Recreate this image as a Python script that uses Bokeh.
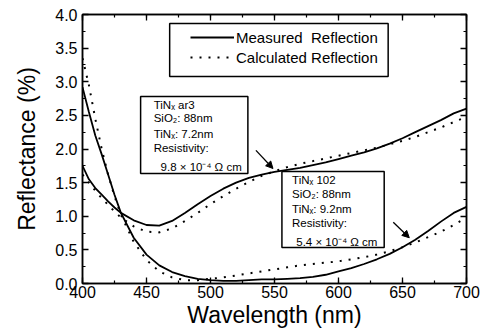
from bokeh.plotting import figure
from bokeh.models import (Range1d, LinearAxis, Legend, LegendItem, BoxAnnotation,
                          Label, Arrow, NormalHead, SingleIntervalTicker, NumeralTickFormatter)
from bokeh.embed import file_html
from bokeh.resources import INLINE

# ---------------- data ----------------
wavelength = [400, 405, 410, 415, 420, 425, 430, 440, 450, 460, 470, 480, 490, 500,
              510, 520, 530, 540, 550, 560, 570, 580, 590, 600, 610, 620, 630, 640,
              650, 660, 670, 680, 690, 700]

meas_ar3 = [1.75, 1.55, 1.42, 1.32, 1.22, 1.13, 1.05, 0.94, 0.87, 0.86, 0.93, 1.05, 1.18, 1.30,
            1.41, 1.50, 1.57, 1.62, 1.66, 1.69, 1.72, 1.76, 1.80, 1.85, 1.90, 1.95, 2.01, 2.08,
            2.16, 2.25, 2.34, 2.43, 2.53, 2.60]
calc_ar3 = [1.62, 1.50, 1.38, 1.27, 1.17, 1.07, 0.98, 0.85, 0.77, 0.76, 0.82, 0.93, 1.05, 1.18,
            1.30, 1.41, 1.51, 1.60, 1.67, 1.73, 1.78, 1.82, 1.86, 1.90, 1.94, 1.98, 2.02, 2.07,
            2.12, 2.18, 2.25, 2.32, 2.40, 2.48]
meas_102 = [2.92, 2.55, 2.20, 1.92, 1.62, 1.32, 1.05, 0.68, 0.43, 0.27, 0.17, 0.11, 0.07, 0.05,
            0.04, 0.04, 0.05, 0.06, 0.06, 0.07, 0.08, 0.10, 0.13, 0.18, 0.23, 0.29, 0.36, 0.44,
            0.54, 0.65, 0.78, 0.92, 1.05, 1.14]
calc_102 = [3.35, 2.95, 2.45, 2.00, 1.62, 1.30, 1.02, 0.62, 0.35, 0.18, 0.09, 0.05, 0.05, 0.07,
            0.09, 0.12, 0.15, 0.18, 0.21, 0.24, 0.27, 0.29, 0.31, 0.33, 0.36, 0.39, 0.43, 0.48,
            0.54, 0.61, 0.69, 0.77, 0.87, 0.98]

legend_labels = ["Measured  Reflection", "Calculated Reflection"]
box1_lines = ["TiNₓ ar3", "SiO₂: 88nm", "TiNₓ: 7.2nm", "Resistivity:", "9.8 × 10⁻⁴ Ω  cm"]
box2_lines = ["TiNₓ 102", "SiO₂: 88nm", "TiNₓ: 9.2nm", "Resistivity:", "5.4 × 10⁻⁴ Ω  cm"]

FONT = "Liberation Sans"

p = figure(width=492, height=332, output_backend="svg", toolbar_location=None,
           x_range=Range1d(400, 700), y_range=Range1d(0, 4.0),
           min_border_left=82, min_border_right=26, min_border_top=14, min_border_bottom=49)
p.xgrid.visible = False
p.ygrid.visible = False
p.outline_line_color = "black"
p.outline_line_width = 1.5
p.background_fill_color = "white"
p.border_fill_color = "white"

def style_axis(ax, ticker, show_labels=True):
    ax.ticker = ticker
    ax.axis_line_width = 1.5
    ax.axis_line_color = "black"
    ax.major_tick_in = 6
    ax.major_tick_out = 0
    ax.minor_tick_in = 3
    ax.minor_tick_out = 0
    ax.major_tick_line_width = 1.3
    ax.minor_tick_line_width = 1.2
    ax.major_tick_line_color = "black"
    ax.minor_tick_line_color = "black"
    if show_labels:
        ax.major_label_text_font = FONT
        ax.major_label_text_font_size = "16px"
        ax.major_label_text_color = "black"
    else:
        ax.major_label_text_font_size = "0px"
        ax.major_label_standoff = 0

xt = lambda: SingleIntervalTicker(interval=50, num_minor_ticks=2)
yt = lambda: SingleIntervalTicker(interval=0.5, num_minor_ticks=2)

style_axis(p.xaxis[0], xt())
style_axis(p.yaxis[0], yt())
p.yaxis[0].formatter = NumeralTickFormatter(format="0.0")
p.xaxis[0].major_label_standoff = 2
p.yaxis[0].major_label_standoff = 5
p.xaxis.axis_label = "Wavelength (nm)"
p.yaxis.axis_label = "Reflectance (%)"
for ax in (p.xaxis[0], p.yaxis[0]):
    ax.axis_label_text_font = FONT
    ax.axis_label_text_font_size = "23px"
    ax.axis_label_text_font_style = "normal"
    ax.axis_label_text_color = "black"
p.xaxis[0].axis_label_standoff = 1
p.yaxis[0].axis_label_standoff = 12

top_ax = LinearAxis()
right_ax = LinearAxis()
style_axis(top_ax, xt(), show_labels=False)
style_axis(right_ax, yt(), show_labels=False)
p.add_layout(top_ax, "above")
p.add_layout(right_ax, "right")

# ---------------- curves ----------------
r_m1 = p.line(wavelength, meas_ar3, line_color="black", line_width=1.8)
r_c1 = p.line(wavelength, calc_ar3, line_color="black", line_width=2, line_dash="2 7")
r_m2 = p.line(wavelength, meas_102, line_color="black", line_width=1.8)
r_c2 = p.line(wavelength, calc_102, line_color="black", line_width=2, line_dash="2 7")

# ---------------- legend ----------------
p.add_layout(BoxAnnotation(left=468.1, right=638.8, top=3.866, bottom=3.078,
                           fill_color="white", fill_alpha=1, line_color="black",
                           line_alpha=1, line_width=1.5))
legend = Legend(items=[LegendItem(label=legend_labels[0], renderers=[r_m1]),
                       LegendItem(label=legend_labels[1], renderers=[r_c1])],
                location=(108, 216), padding=0, margin=0, spacing=0,
                glyph_width=44, glyph_height=20, label_height=20, label_standoff=2,
                border_line_color=None, background_fill_alpha=0,
                label_text_font=FONT, label_text_font_size="15px", label_text_color="black")
p.add_layout(legend, "center")

# ---------------- annotation boxes ----------------
def info_box(left, right, top, bottom, x_text, x_last, ys, lines):
    p.add_layout(BoxAnnotation(left=left, right=right, top=top, bottom=bottom,
                               fill_color="white", fill_alpha=1,
                               line_color="black", line_alpha=1, line_width=1.5))
    for i, (yy, txt) in enumerate(zip(ys, lines)):
        p.add_layout(Label(x=x_last if i == len(lines) - 1 else x_text, y=yy, text=txt,
                           text_font=FONT, text_font_size="11.5px", text_color="black",
                           text_baseline="middle", text_align="left"))

info_box(445.4, 529.2, 2.781, 1.636, 455.6, 461.0,
         [2.647, 2.454, 2.230, 2.022, 1.725], box1_lines)
info_box(555.8, 635.7, 1.665, 0.535, 563.7, 567.0,
         [1.532, 1.338, 1.115, 0.907, 0.610], box2_lines)

for (xs, ys, xe, ye) in [(535.5, 1.98, 548.8, 1.71), (642.8, 0.91, 655.3, 0.68)]:
    p.add_layout(Arrow(x_start=xs, y_start=ys, x_end=xe, y_end=ye, line_width=1.3,
                       line_color="black",
                       end=NormalHead(size=7, fill_color="black", line_color="black")))

open("out.html", "w").write(file_html(p, INLINE))
